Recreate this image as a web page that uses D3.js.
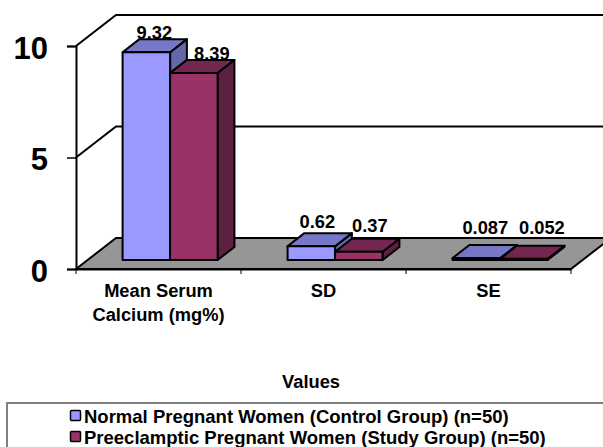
<!DOCTYPE html>
<html>
<head>
<meta charset="utf-8">
<script src="https://cdn.jsdelivr.net/npm/d3@7"></script>
<style>
body { margin: 0; background: #fff; }
svg { display: block; }
text { font-family: "Liberation Sans", Arial, sans-serif; font-weight: bold; fill: #000; }
</style>
</head>
<body>
<script>
// values
var categories = ["Mean Serum|Calcium (mg%)", "SD", "SE"];
var seriesNames = ["Normal Pregnant Women (Control Group) (n=50)", "Preeclamptic Pregnant Women (Study Group) (n=50)"];
var control = [9.32, 0.62, 0.087];
var study = [8.39, 0.37, 0.052];
var controlLabels = ["9.32", "0.62", "0.087"];
var studyLabels = ["8.39", "0.37", "0.052"];
var yTicks = [0, 5, 10];

var width = 603, height = 447;

// 3d look: how far back the floor goes
var depthX = 40, depthY = -31;
var barNear = 0.29, barFar = 0.71;

var colors = [
    {front: "#9999ff", top: "#7777c7", side: "#6666aa"},
    {front: "#993366", top: "#732650", side: "#5e2040"}
];

// label shift from the bar's back top corner, one pair per category
var labelNudge = [
    [[8, 0], [18, 0]],
    [[6, -5], [11, -7]],
    [[9, -11], [18, -11.5]]
];

var svg = d3.select("body").append("svg")
    .attr("width", width)
    .attr("height", height);

var x0 = d3.scaleBand().domain(categories).range([76, 571]).paddingInner(0.424).paddingOuter(0.212);
var x1 = d3.scaleBand().domain([0, 1]).range([0, x0.bandwidth()]);
var y = d3.scaleLinear().domain([0, 10]).range([269, 46]);

function pt(x, yy, d) {
    return (x + depthX * d) + "," + (yy + depthY * d);
}
function poly(points) {
    return "M" + points.join("L") + "Z";
}

// floor
svg.append("path")
    .attr("d", poly([pt(76, y(0), 0), pt(76, y(0), 1), pt(571, y(0), 1), pt(571, y(0), 0)]))
    .attr("fill", "#969696")
    .attr("stroke", "#000")
    .attr("stroke-width", 2);

// gridlines up the side wall and along the back wall
yTicks.filter(function(d) { return d > 0; }).forEach(function(t) {
    svg.append("path")
        .attr("d", "M" + pt(76, y(t), 0) + "L" + pt(76, y(t), 1) + "L" + pt(width + 10, y(t), 1))
        .attr("fill", "none")
        .attr("stroke", "#000")
        .attr("stroke-width", 2);
});

// y axis
var yAxis = svg.append("g")
    .attr("transform", "translate(76,0)")
    .call(d3.axisLeft(y).tickValues(yTicks).tickSize(9).tickPadding(19));
yAxis.selectAll("path, line").attr("stroke", "#000").attr("stroke-width", 1.5);
yAxis.select("path").attr("stroke-width", 2);
yAxis.selectAll("text").attr("dy", "0.39em").style("font-size", "31px");
yAxis.attr("font-family", null);

// x axis, ticks sit between the categories
var xAxis = svg.append("g")
    .attr("transform", "translate(0," + y(0) + ")")
    .call(d3.axisBottom(x0).tickSize(0).tickFormat(""));
xAxis.selectAll("path").attr("stroke", "#000").attr("stroke-width", 2);

xAxis.selectAll(".bound")
    .data(d3.range(categories.length + 1))
    .enter()
    .append("line")
    .attr("class", "bound")
    .attr("x1", function(i) { return 76 + i * x0.step(); })
    .attr("x2", function(i) { return 76 + i * x0.step(); })
    .attr("y1", 0)
    .attr("y2", 5)
    .attr("stroke", "#000")
    .attr("stroke-width", 1);

var catLabel = svg.selectAll(".cat")
    .data(categories)
    .enter()
    .append("text")
    .attr("class", "cat")
    .attr("text-anchor", "middle")
    .style("font-size", "18.3px");
catLabel.each(function(c) {
    var self = d3.select(this);
    c.split("|").forEach(function(line, i) {
        self.append("tspan")
            .attr("x", x0(c) + x0.bandwidth() / 2)
            .attr("y", 297 + i * 24)
            .text(line);
    });
});

// bars
[control, study].forEach(function(values, s) {
    values.forEach(function(v, i) {
        var left = x0(categories[i]) + x1(s);
        var right = left + x1.bandwidth();
        var base = y(0), top = y(v);
        var g = svg.append("g")
            .attr("stroke", "#000")
            .attr("stroke-width", 2)
            .attr("stroke-linejoin", "round");

        // side
        g.append("path")
            .attr("d", poly([pt(right, base, barNear), pt(right, base, barFar), pt(right, top, barFar), pt(right, top, barNear)]))
            .attr("fill", colors[s].side);
        // top
        g.append("path")
            .attr("d", poly([pt(left, top, barNear), pt(left, top, barFar), pt(right, top, barFar), pt(right, top, barNear)]))
            .attr("fill", colors[s].top);
        // front
        g.append("path")
            .attr("d", poly([pt(left, base, barNear), pt(right, base, barNear), pt(right, top, barNear), pt(left, top, barNear)]))
            .attr("fill", colors[s].front);
    });
});

// data labels go on last so bars never cover them
[controlLabels, studyLabels].forEach(function(labels, s) {
    var values = s === 0 ? control : study;
    labels.forEach(function(txt, i) {
        var cx = x0(categories[i]) + x1(s) + x1.bandwidth() / 2 + depthX * barNear;
        var backTop = y(values[i]) + depthY * barFar;
        svg.append("text")
            .attr("x", cx + labelNudge[i][s][0])
            .attr("y", backTop + labelNudge[i][s][1])
            .attr("text-anchor", "middle")
            .style("font-size", "18.3px")
            .text(txt);
    });
});

// axis title
svg.append("text")
    .attr("x", 311)
    .attr("y", 388)
    .attr("text-anchor", "middle")
    .style("font-size", "18.3px")
    .text("Values");

// legend
svg.append("rect")
    .attr("x", 7)
    .attr("y", 403)
    .attr("width", width)
    .attr("height", height)
    .attr("fill", "#fff")
    .attr("stroke", "#808080")
    .attr("stroke-width", 2);

var legend = svg.selectAll(".legend")
    .data(seriesNames)
    .enter()
    .append("g")
    .attr("class", "legend")
    .attr("transform", function(d, i) { return "translate(70," + (410 + i * 21) + ")"; });
legend.append("rect")
    .attr("x", 0.5)
    .attr("y", 0.5)
    .attr("width", 10)
    .attr("height", 10)
    .attr("rx", 1)
    .attr("fill", function(d, i) { return colors[i].front; })
    .attr("stroke", "#000")
    .attr("stroke-width", 1.5);
legend.append("text")
    .attr("x", 14)
    .attr("y", 13)
    .style("font-size", "18.5px")
    .text(function(d) { return d; });
</script>
</body>
</html>
